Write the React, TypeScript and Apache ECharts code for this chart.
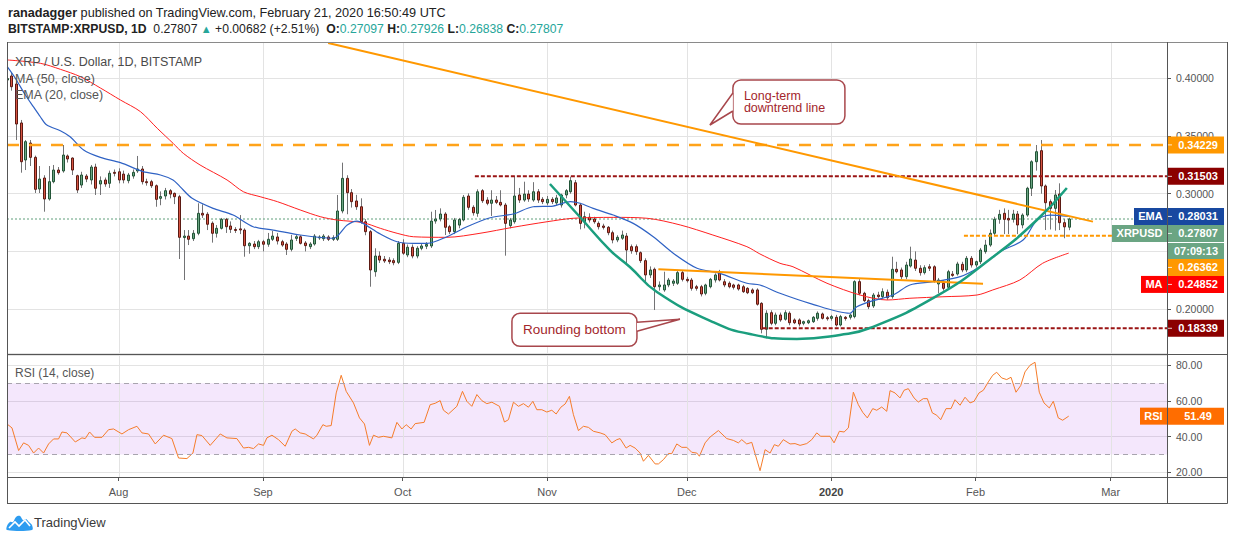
import React, { useEffect, useRef } from 'react';
import * as echarts from 'echarts';

// Days are counted from 2019-07-01 (day 0). First candle: 2019-07-08 (day 7).
const FIRST_DAY = 7;
const X_MIN = 7.05;
const X_MAX = 256.1;
const PRICE_MIN = 0.16196;
const PRICE_MAX = 0.43146;
const RSI_MIN = 17.36;
const RSI_MAX = 85.78;

const monthStarts = [31, 62, 92, 123, 153, 184, 215, 244];
const monthLabels = ['Aug', 'Sep', 'Oct', 'Nov', 'Dec', '2020', 'Feb', 'Mar'];
// Price-axis labels that the original hides behind its price tags
const hiddenPriceLabels = [0.25];

const opens = [
  0.3985, 0.4020, 0.3951, 0.3613, 0.3292, 0.3439, 0.3315, 0.3041, 0.3136, 0.2954,
  0.3104, 0.3205, 0.3197, 0.3327, 0.3309, 0.3156, 0.3075, 0.3153, 0.3119, 0.3231,
  0.3084, 0.3119, 0.3090, 0.3185, 0.3190, 0.3170, 0.3113, 0.3153, 0.3197, 0.3214,
  0.3104, 0.3104, 0.3069, 0.2960, 0.2980, 0.3026, 0.3003, 0.2974, 0.2620, 0.2633,
  0.2610, 0.2657, 0.2830, 0.2822, 0.2744, 0.2657, 0.2700, 0.2778, 0.2720, 0.2690,
  0.2695, 0.2685, 0.2549, 0.2564, 0.2541, 0.2584, 0.2562, 0.2605, 0.2625, 0.2584,
  0.2564, 0.2518, 0.2613, 0.2627, 0.2573, 0.2541, 0.2564, 0.2619, 0.2610, 0.2625,
  0.2605, 0.2605, 0.2850, 0.3133, 0.3009, 0.2937, 0.2887, 0.2757, 0.2671, 0.2324,
  0.2460, 0.2432, 0.2425, 0.2420, 0.2405, 0.2570, 0.2469, 0.2536, 0.2460, 0.2527,
  0.2545, 0.2547, 0.2763, 0.2781, 0.2824, 0.2714, 0.2671, 0.2728, 0.2772, 0.2980,
  0.2882, 0.2830, 0.3026, 0.2945, 0.2917, 0.2945, 0.2925, 0.2902, 0.2723, 0.2757,
  0.2989, 0.2945, 0.2997, 0.2945, 0.3017, 0.2951, 0.2920, 0.2951, 0.2920, 0.2902,
  0.2989, 0.3017, 0.3095, 0.2902, 0.2757, 0.2796, 0.2781, 0.2743, 0.2720, 0.2709,
  0.2662, 0.2599, 0.2614, 0.2633, 0.2541, 0.2541, 0.2489, 0.2420, 0.2296, 0.2345,
  0.2194, 0.2166, 0.2209, 0.2224, 0.2224, 0.2316, 0.2258, 0.2252, 0.2194, 0.2194,
  0.2137, 0.2194, 0.2252, 0.2316, 0.2237, 0.2224, 0.2209, 0.2209, 0.2194, 0.2180,
  0.2166, 0.2166, 0.2050, 0.1825, 0.1969, 0.1877, 0.1949, 0.1912, 0.1964, 0.1906,
  0.1906, 0.1877, 0.1882, 0.1891, 0.1920, 0.1958, 0.1925, 0.1920, 0.1929, 0.1862,
  0.1929, 0.1929, 0.1935, 0.2238, 0.2137, 0.2073, 0.2027, 0.2122, 0.2108, 0.2146,
  0.2108, 0.2345, 0.2339, 0.2281, 0.2373, 0.2425, 0.2354, 0.2316, 0.2367, 0.2367,
  0.2218, 0.2224, 0.2189, 0.2303, 0.2304, 0.2388, 0.2339, 0.2440, 0.2382, 0.2411,
  0.2498, 0.2555, 0.2657, 0.2778, 0.2830, 0.2786, 0.2778, 0.2824, 0.2729, 0.2815,
  0.3047, 0.3277, 0.3373, 0.3067, 0.2931, 0.2873, 0.2997, 0.2749, 0.27097,
];

const highs = [
  0.4020, 0.4046, 0.3975, 0.3639, 0.3465, 0.3465, 0.3330, 0.3240, 0.3160, 0.3240,
  0.3249, 0.3231, 0.3422, 0.3340, 0.3315, 0.3165, 0.3190, 0.3170, 0.3249, 0.3260,
  0.3150, 0.3140, 0.3200, 0.3210, 0.3220, 0.3200, 0.3180, 0.3210, 0.3327, 0.3240,
  0.3130, 0.3120, 0.3080, 0.3020, 0.3050, 0.3040, 0.3010, 0.2990, 0.2685, 0.2685,
  0.2685, 0.2917, 0.2908, 0.2840, 0.2760, 0.2728, 0.2790, 0.2790, 0.2760, 0.2710,
  0.2815, 0.2700, 0.2580, 0.2590, 0.2600, 0.2600, 0.2660, 0.2677, 0.2660, 0.2600,
  0.2580, 0.2643, 0.2650, 0.2640, 0.2590, 0.2580, 0.2650, 0.2640, 0.2650, 0.2640,
  0.2640, 0.2989, 0.3269, 0.3160, 0.3040, 0.2990, 0.2960, 0.2780, 0.2685, 0.2527,
  0.2500, 0.2460, 0.2450, 0.2440, 0.2590, 0.2605, 0.2560, 0.2560, 0.2545, 0.2570,
  0.2580, 0.2844, 0.2859, 0.2873, 0.2840, 0.2730, 0.2790, 0.2790, 0.2989, 0.3003,
  0.2900, 0.3038, 0.3040, 0.2970, 0.3030, 0.2980, 0.3030, 0.2920, 0.2790, 0.3153,
  0.3050, 0.3104, 0.3030, 0.3100, 0.3040, 0.2970, 0.2980, 0.2970, 0.2990, 0.3000,
  0.3040, 0.3147, 0.3119, 0.2920, 0.2844, 0.2830, 0.2800, 0.2760, 0.2740, 0.2720,
  0.2680, 0.2640, 0.2680, 0.2660, 0.2560, 0.2560, 0.2500, 0.2440, 0.2370, 0.2360,
  0.2240, 0.2324, 0.2270, 0.2260, 0.2340, 0.2330, 0.2280, 0.2270, 0.2210, 0.2210,
  0.2220, 0.2270, 0.2310, 0.2340, 0.2260, 0.2240, 0.2220, 0.2220, 0.2210, 0.2190,
  0.2180, 0.2180, 0.2060, 0.1990, 0.1990, 0.1970, 0.1970, 0.1990, 0.1980, 0.1920,
  0.1920, 0.1900, 0.1910, 0.1940, 0.1980, 0.1970, 0.1940, 0.1950, 0.1950, 0.1950,
  0.1940, 0.1960, 0.2250, 0.2260, 0.2150, 0.2090, 0.2140, 0.2150, 0.2180, 0.2170,
  0.2454, 0.2410, 0.2360, 0.2410, 0.2541, 0.2500, 0.2380, 0.2380, 0.2390, 0.2380,
  0.2270, 0.2250, 0.2340, 0.2330, 0.2410, 0.2410, 0.2460, 0.2460, 0.2420, 0.2530,
  0.2600, 0.2690, 0.2800, 0.2860, 0.2873, 0.2860, 0.2860, 0.2850, 0.2830, 0.3060,
  0.3290, 0.3422, 0.3465, 0.3080, 0.2950, 0.3032, 0.3090, 0.2780, 0.27926,
];

const lows = [
  0.3960, 0.3893, 0.3465, 0.3182, 0.3205, 0.3240, 0.3006, 0.3006, 0.2844, 0.2940,
  0.3090, 0.3165, 0.3182, 0.3270, 0.3162, 0.3006, 0.3050, 0.3100, 0.3080, 0.2989,
  0.2989, 0.3060, 0.3050, 0.3150, 0.3090, 0.3090, 0.3090, 0.3130, 0.3180, 0.3080,
  0.3070, 0.3050, 0.2887, 0.2900, 0.2950, 0.2960, 0.2910, 0.2434, 0.2252, 0.2555,
  0.2590, 0.2640, 0.2790, 0.2685, 0.2576, 0.2620, 0.2690, 0.2660, 0.2660, 0.2660,
  0.2650, 0.2454, 0.2480, 0.2520, 0.2520, 0.2500, 0.2540, 0.2590, 0.2560, 0.2540,
  0.2469, 0.2500, 0.2590, 0.2560, 0.2500, 0.2520, 0.2550, 0.2600, 0.2590, 0.2590,
  0.2590, 0.2590, 0.2830, 0.2822, 0.2880, 0.2860, 0.2740, 0.2640, 0.2194, 0.2281,
  0.2400, 0.2400, 0.2390, 0.2380, 0.2390, 0.2470, 0.2450, 0.2440, 0.2440, 0.2510,
  0.2520, 0.2530, 0.2740, 0.2760, 0.2642, 0.2650, 0.2650, 0.2700, 0.2760, 0.2860,
  0.2810, 0.2800, 0.2920, 0.2900, 0.2807, 0.2910, 0.2890, 0.2463, 0.2700, 0.2740,
  0.2920, 0.2930, 0.2930, 0.2930, 0.2920, 0.2910, 0.2900, 0.2910, 0.2900, 0.2880,
  0.2960, 0.3000, 0.2890, 0.2691, 0.2700, 0.2750, 0.2740, 0.2690, 0.2690, 0.2640,
  0.2570, 0.2580, 0.2600, 0.2397, 0.2480, 0.2470, 0.2400, 0.2224, 0.2270, 0.1992,
  0.2160, 0.2150, 0.2190, 0.2200, 0.2210, 0.2240, 0.2230, 0.2160, 0.2160, 0.2110,
  0.2120, 0.2180, 0.2230, 0.2240, 0.2190, 0.2180, 0.2170, 0.2160, 0.2140, 0.2130,
  0.2130, 0.2030, 0.1790, 0.1747, 0.1860, 0.1860, 0.1890, 0.1900, 0.1860, 0.1870,
  0.1850, 0.1860, 0.1870, 0.1880, 0.1900, 0.1910, 0.1900, 0.1900, 0.1850, 0.1850,
  0.1900, 0.1910, 0.1920, 0.2120, 0.2060, 0.2000, 0.2010, 0.2090, 0.2090, 0.2080,
  0.2090, 0.2310, 0.2260, 0.2260, 0.2360, 0.2330, 0.2290, 0.2300, 0.2330, 0.2230,
  0.2137, 0.2160, 0.2170, 0.2280, 0.2290, 0.2320, 0.2320, 0.2360, 0.2360, 0.2390,
  0.2480, 0.2540, 0.2640, 0.2740, 0.2650, 0.2650, 0.2750, 0.2650, 0.2700, 0.2800,
  0.2980, 0.3200, 0.3000, 0.2685, 0.2690, 0.2680, 0.2685, 0.2614, 0.26838,
];

const closes = [
  0.3998, 0.3927, 0.3604, 0.3277, 0.3451, 0.3315, 0.3038, 0.3127, 0.2954, 0.3104,
  0.3205, 0.3182, 0.3335, 0.3301, 0.3205, 0.3032, 0.3162, 0.3127, 0.3231, 0.3047,
  0.3113, 0.3084, 0.3177, 0.3180, 0.3119, 0.3119, 0.3162, 0.3185, 0.3214, 0.3104,
  0.3100, 0.3069, 0.2951, 0.2975, 0.3026, 0.2997, 0.2974, 0.2622, 0.2633, 0.2605,
  0.2657, 0.2830, 0.2815, 0.2735, 0.2657, 0.2700, 0.2778, 0.2714, 0.2691, 0.2686,
  0.2686, 0.2549, 0.2570, 0.2541, 0.2584, 0.2562, 0.2605, 0.2633, 0.2590, 0.2555,
  0.2518, 0.2599, 0.2627, 0.2570, 0.2550, 0.2564, 0.2633, 0.2625, 0.2633, 0.2605,
  0.2619, 0.2850, 0.3133, 0.3009, 0.2931, 0.2887, 0.2757, 0.2671, 0.2339, 0.2460,
  0.2425, 0.2417, 0.2411, 0.2402, 0.2570, 0.2484, 0.2536, 0.2460, 0.2527, 0.2547,
  0.2560, 0.2763, 0.2781, 0.2824, 0.2709, 0.2671, 0.2772, 0.2777, 0.2969, 0.2882,
  0.2835, 0.3017, 0.2939, 0.2917, 0.2945, 0.2925, 0.2902, 0.2743, 0.2772, 0.2980,
  0.2945, 0.2997, 0.2954, 0.3017, 0.2945, 0.2931, 0.2951, 0.2931, 0.2963, 0.2989,
  0.3026, 0.3113, 0.2902, 0.2743, 0.2801, 0.2772, 0.2757, 0.2714, 0.2708, 0.2662,
  0.2599, 0.2622, 0.2642, 0.2512, 0.2506, 0.2498, 0.2420, 0.2296, 0.2339, 0.2194,
  0.2209, 0.2209, 0.2252, 0.2243, 0.2316, 0.2258, 0.2246, 0.2180, 0.2180, 0.2131,
  0.2209, 0.2258, 0.2296, 0.2252, 0.2209, 0.2194, 0.2189, 0.2174, 0.2151, 0.2142,
  0.2142, 0.2042, 0.1825, 0.1964, 0.1877, 0.1949, 0.1906, 0.1969, 0.1882, 0.1882,
  0.1871, 0.1891, 0.1899, 0.1929, 0.1964, 0.1920, 0.1918, 0.1935, 0.1862, 0.1935,
  0.1918, 0.1949, 0.2238, 0.2137, 0.2073, 0.2021, 0.2122, 0.2108, 0.2151, 0.2099,
  0.2345, 0.2324, 0.2281, 0.2382, 0.2434, 0.2354, 0.2316, 0.2359, 0.2354, 0.2246,
  0.2252, 0.2180, 0.2324, 0.2292, 0.2391, 0.2339, 0.2440, 0.2382, 0.2411, 0.2512,
  0.2555, 0.2657, 0.2778, 0.2821, 0.2778, 0.2772, 0.2824, 0.2729, 0.2815, 0.3047,
  0.3277, 0.3364, 0.3067, 0.2922, 0.2873, 0.2989, 0.2749, 0.27125, 0.27807,
];

// EMA (20) and MA (50) as [day, value]
const emaPoints = [
  [7.1, 0.4101], [8.8, 0.4003], [11.0, 0.3855], [12.7, 0.3754], [14.2, 0.3667], [15.6, 0.3595],
  [18.5, 0.3546], [20.6, 0.3494], [23.5, 0.3379], [27.1, 0.3315], [31.4, 0.3269], [36.3, 0.3191],
  [40.0, 0.3162], [42.7, 0.3119], [44.2, 0.3061], [46.8, 0.2960], [51.3, 0.2873], [55.6, 0.2815],
  [59.9, 0.2714], [64.2, 0.2685], [70.0, 0.2642], [77.1, 0.2614], [80.1, 0.2729], [82.2, 0.2763],
  [83.5, 0.2743], [87.2, 0.2651], [90.8, 0.2584], [94.3, 0.2570], [97.3, 0.2570], [101.5, 0.2627],
  [105.8, 0.2714], [110.8, 0.2792], [115.7, 0.2824], [120.0, 0.2887], [124.3, 0.2893], [128.0, 0.2931],
  [130.1, 0.2917], [132.9, 0.2873], [137.2, 0.2815], [141.5, 0.2743], [145.8, 0.2627], [150.1, 0.2484],
  [155.2, 0.2354], [160.1, 0.2310], [165.9, 0.2224], [168.7, 0.2209], [173.0, 0.2137], [179.4, 0.2050],
  [188.0, 0.1964], [189.5, 0.2021], [193.0, 0.2073], [197.3, 0.2122], [200.9, 0.2209], [205.9, 0.2237],
  [211.7, 0.2281], [215.9, 0.2367], [220.2, 0.2497], [225.2, 0.2599], [228.2, 0.2772], [231.0, 0.2815],
  [235, 0.28031],
];

const maPoints = [
  [7.1, 0.4159], [14.2, 0.4130], [18.5, 0.4078], [22.8, 0.4014], [27.1, 0.3916], [31.4, 0.3812],
  [35.7, 0.3711], [39.3, 0.3567], [42.7, 0.3437], [44.9, 0.3350], [48.5, 0.3249], [54.3, 0.3119],
  [57.8, 0.3017], [61.4, 0.2974], [65.1, 0.2931], [70.0, 0.2859], [74.3, 0.2801], [77.9, 0.2772],
  [83.5, 0.2749], [87.2, 0.2700], [90.8, 0.2657], [94.3, 0.2627], [101.5, 0.2622], [108.6, 0.2657],
  [115.7, 0.2709], [123.0, 0.2757], [128.6, 0.2787], [137.2, 0.2795], [144.5, 0.2787], [151.6, 0.2729],
  [158.6, 0.2642], [165.9, 0.2541], [168.7, 0.2478], [173.0, 0.2397], [175.8, 0.2367], [183.1, 0.2224],
  [190.2, 0.2122], [196.0, 0.2079], [200.9, 0.2094], [208.0, 0.2107], [215.3, 0.2122], [218.7, 0.2166],
  [224.5, 0.2252], [229.4, 0.2397], [235, 0.24852],
];

// RSI (14) as [day, value]
const rsiPoints = [
  [7.05, 47.1], [8.12, 44.9], [9.54, 32.2], [10.61, 36.5], [11.68, 35.1], [12.76, 30.8], [13.83, 33.6],
  [14.9, 30.8], [15.98, 35.9], [17.05, 38.7], [18.12, 38.7], [18.85, 42.6], [19.92, 42.1], [21.71, 37.0],
  [23.14, 39.3], [23.85, 38.9], [24.78, 42.6], [25.85, 39.6], [27.44, 39.6], [28.85, 43.9], [29.93, 44.3],
  [31.73, 41.5], [33.15, 43.9], [34.95, 45.8], [36.02, 42.1], [37.44, 41.5], [38.88, 35.9], [40.66, 40.8],
  [42.46, 38.9], [43.88, 28.0], [45.68, 27.7], [46.97, 30.8], [47.83, 41.1], [48.9, 40.6], [50.68, 35.1],
  [52.83, 41.5], [54.27, 39.3], [56.41, 38.9], [57.83, 33.6], [58.9, 34.0], [59.98, 33.3], [61.05, 35.9],
  [62.12, 35.1], [62.85, 39.3], [63.93, 40.8], [65.34, 38.3], [66.78, 34.6], [68.22, 43.0], [68.93, 44.3],
  [70.0, 42.1], [71.07, 41.5], [72.85, 38.7], [73.58, 40.8], [74.87, 46.7], [75.58, 45.8], [76.65, 46.2],
  [77.73, 64.5], [78.8, 74.4], [79.87, 65.4], [81.44, 58.9], [82.73, 50.5], [83.8, 47.1], [84.87, 35.1],
  [85.73, 40.8], [86.81, 39.6], [87.88, 40.2], [89.68, 39.3], [90.76, 48.0], [91.83, 44.3], [92.75, 46.7],
  [93.82, 44.3], [94.68, 47.3], [96.6, 48.0], [97.9, 57.9], [98.98, 58.7], [100.05, 60.2], [100.76, 54.8],
  [101.83, 52.7], [103.63, 57.0], [104.84, 65.4], [105.78, 59.8], [106.85, 57.0], [107.93, 63.6],
  [109.0, 60.2], [110.07, 58.5], [111.15, 59.3], [112.78, 57.0], [113.85, 48.2], [114.71, 49.5],
  [115.78, 59.3], [116.86, 57.0], [117.93, 58.5], [119.0, 56.5], [119.95, 59.8], [120.8, 55.1],
  [121.88, 55.1], [122.95, 53.8], [124.02, 54.8], [124.95, 52.7], [125.96, 56.5], [126.88, 58.3],
  [127.8, 62.6], [128.66, 52.3], [129.73, 43.4], [130.81, 45.8], [131.88, 45.2], [132.95, 43.0],
  [134.39, 42.1], [135.46, 41.1], [136.9, 36.5], [137.97, 38.3], [138.68, 38.9], [139.97, 33.6],
  [140.83, 35.1], [141.9, 33.6], [142.98, 30.8], [143.69, 26.2], [144.76, 29.5], [146.2, 24.7],
  [146.91, 24.7], [147.98, 27.1], [149.05, 30.5], [149.78, 30.5], [150.85, 35.9], [151.93, 34.0],
  [153.0, 34.0], [154.07, 31.2], [155.15, 30.8], [155.71, 29.0], [156.93, 36.5], [158.0, 39.8],
  [159.78, 43.4], [161.58, 38.9], [163.0, 37.9], [164.07, 36.5], [164.8, 38.3], [165.87, 35.9],
  [166.95, 36.8], [168.73, 20.9], [169.81, 32.7], [170.88, 30.8], [171.8, 35.5], [172.66, 34.6],
  [173.73, 38.3], [175.17, 35.9], [176.24, 36.1], [177.32, 35.1], [178.75, 36.1], [179.83, 38.3],
  [180.9, 42.1], [181.76, 40.2], [183.76, 40.2], [184.62, 36.5], [185.76, 43.0], [186.77, 42.6],
  [187.69, 44.9], [188.76, 64.9], [189.83, 57.9], [190.78, 53.6], [191.76, 50.5], [192.92, 55.7],
  [193.78, 54.8], [194.85, 56.6], [195.93, 54.2], [196.64, 65.8], [197.71, 64.5], [198.78, 61.7],
  [199.64, 66.0], [200.56, 66.9], [201.79, 61.7], [202.71, 59.4], [203.78, 61.3], [204.64, 61.3],
  [205.72, 53.3], [206.66, 52.0], [207.52, 49.5], [208.66, 55.7], [209.73, 55.7], [210.59, 60.7],
  [211.67, 57.6], [212.74, 62.1], [213.81, 58.9], [214.67, 59.8], [215.74, 64.5], [216.67, 66.0],
  [217.74, 70.7], [218.68, 74.4], [219.54, 76.1], [220.61, 72.9], [221.68, 72.0], [222.61, 73.3],
  [223.68, 64.9], [224.69, 68.6], [225.61, 76.3], [226.68, 80.0], [227.76, 81.7], [228.68, 64.9],
  [229.69, 58.9], [230.83, 56.1], [231.69, 59.8], [232.76, 50.5], [233.7, 49.2], [235, 51.49],
];
const rsiBands = [30, 70];

// Horizontal levels drawn on the chart
const levelValues = [0.34229, 0.31503, 0.26362, 0.18339];
const levelStartDays = [7.05, 107.5, 212.5, 169.3];

// Drawn trend lines / curve as [day, price]
const downtrendLine = [[76.0, 0.4306], [240.2, 0.2758]];
const flatLine = [[146.9, 0.2345], [216.6, 0.2220]];
const roundingBottom = [
  [123.62, 0.3084], [130.06, 0.2798], [136.5, 0.2512], [140.79, 0.2365], [146.59, 0.2148],
  [158.61, 0.1888], [166.55, 0.1784], [176.64, 0.1741], [185.87, 0.1776], [192.31, 0.1836],
  [206.7, 0.2114], [218.72, 0.2451], [228.16, 0.2772], [234.6, 0.3050],
];

// Callout anchors (box top-left) as [day, price]
const calloutTrend = [162.9, 0.39853];
const calloutBottom = [115.46, 0.19636];

const countdownText = '07:09:13';
const headerLine1 = '{b|ranadagger}{n| published on TradingView.com, February 21, 2020 16:50:49 UTC}';
const headerLine2 =
  '{b|BITSTAMP:XRPUSD, 1D}{n|  0.27807 }{g|▲}{n| +0.00682 (+2.51%)  }{b|O:}{v|0.27097}{b| H:}{v|0.27926}{b| L:}{v|0.26838}{b| C:}{v|0.27807}';

export default function App() {
  const ref = useRef<HTMLDivElement>(null);

  useEffect(() => {
    const el = ref.current;
    if (!el) return;
    const chart = echarts.init(el, null, { renderer: 'svg' });
    const FONT = '"Liberation Sans", Arial, sans-serif';

    const GL = 7, GR = 1167, MT = 42, MB = 353, RT = 355, RB = 477, FR = 1227, FB = 503;

    const candles = opens.map((o, i) => [FIRST_DAY + i, o, closes[i], lows[i], highs[i]]);
    const lastClose = closes[closes.length - 1];
    const emaLast = emaPoints[emaPoints.length - 1][1];
    const maLast = maPoints[maPoints.length - 1][1];
    const rsiLast = rsiPoints[rsiPoints.length - 1][1];

    const levelStyles = [
      { color: '#ffa31a', type: [12, 10], width: 2.5 },
      { color: '#9a1414', type: [4, 2], width: 2 },
      { color: '#ff9800', type: [4, 2], width: 2 },
      { color: '#9a1414', type: [4, 2], width: 2 },
    ];

    const monthLineSeries = (gi: number, yRef: number) => ({
      type: 'custom',
      xAxisIndex: gi,
      yAxisIndex: gi,
      silent: true,
      z: 1,
      data: monthStarts.map((d) => [d, yRef]),
      encode: { x: 0, y: 1 },
      renderItem: (params: any, api: any) => {
        const cs = params.coordSys;
        const x = Math.round(api.coord([api.value(0), api.value(1)])[0]) + 0.5;
        return {
          type: 'line',
          shape: { x1: x, y1: cs.y, x2: x, y2: cs.y + cs.height },
          style: { stroke: '#e3e3e3', lineWidth: 1 },
        };
      },
    });

    const option: any = {
      animation: false,
      backgroundColor: '#ffffff',
      textStyle: { fontFamily: FONT },
      grid: [
        { left: GL, top: MT, width: GR - GL, height: MB - MT },
        { left: GL, top: RT, width: GR - GL, height: RB - RT },
      ],
      xAxis: [
        { type: 'value', gridIndex: 0, min: X_MIN, max: X_MAX, show: false, splitLine: { show: false } },
        {
          type: 'value',
          gridIndex: 1,
          min: X_MIN,
          max: X_MAX,
          axisLine: { show: false },
          splitLine: { show: false },
          axisTick: { show: true, customValues: monthStarts, length: 4, lineStyle: { color: '#555' } },
          axisLabel: {
            customValues: monthStarts,
            color: '#555',
            fontSize: 11,
            margin: 9,
            formatter: (v: number) => {
              const i = monthStarts.indexOf(Math.round(v));
              const s = i >= 0 ? monthLabels[i] : '';
              return s === '2020' ? '{y|' + s + '}' : s;
            },
            rich: { y: { fontWeight: 'bold', fontSize: 11, color: '#444' } },
          },
        },
      ],
      yAxis: [
        {
          type: 'value',
          gridIndex: 0,
          position: 'right',
          min: PRICE_MIN,
          max: PRICE_MAX,
          splitNumber: 5,
          axisLine: { show: false },
          axisTick: { show: true, length: 4, lineStyle: { color: '#555' } },
          axisLabel: {
            color: '#555',
            fontSize: 10.5,
            margin: 9,
            showMinLabel: false,
            showMaxLabel: false,
            formatter: (v: number) =>
              hiddenPriceLabels.some((h) => Math.abs(h - v) < 1e-6) ? '' : v.toFixed(5),
          },
          splitLine: { show: true, lineStyle: { color: '#e3e3e3', width: 1 } },
        },
        {
          type: 'value',
          gridIndex: 1,
          position: 'right',
          min: RSI_MIN,
          max: RSI_MAX,
          splitNumber: 3,
          axisLine: { show: false },
          axisTick: { show: true, length: 4, lineStyle: { color: '#555' } },
          axisLabel: {
            color: '#555',
            fontSize: 10.5,
            margin: 9,
            showMinLabel: false,
            showMaxLabel: false,
            formatter: (v: number) => v.toFixed(2),
          },
          splitLine: { show: true, lineStyle: { color: '#e3e3e3', width: 1 } },
        },
      ],
      series: [
        monthLineSeries(0, PRICE_MIN),
        monthLineSeries(1, RSI_MIN),
        {
          type: 'line',
          xAxisIndex: 0,
          yAxisIndex: 0,
          silent: true,
          z: 2,
          symbol: 'none',
          data: [[X_MIN, lastClose], [X_MAX, lastClose]],
          lineStyle: { color: '#5f9e7b', width: 1, type: [2, 2] },
        },
        {
          type: 'custom',
          name: 'XRPUSD',
          xAxisIndex: 0,
          yAxisIndex: 0,
          z: 3,
          clip: true,
          silent: true,
          data: candles,
          encode: { x: 0, y: [1, 2, 3, 4] },
          renderItem: (params: any, api: any) => {
            const d = api.value(0);
            const o = api.value(1);
            const c = api.value(2);
            const l = api.value(3);
            const h = api.value(4);
            const po = api.coord([d, o]);
            const yc = api.coord([d, c])[1];
            const yl = api.coord([d, l])[1];
            const yh = api.coord([d, h])[1];
            const up = c >= o;
            const top = Math.min(po[1], yc);
            const bot = Math.max(po[1], yc);
            const xr = Math.round(po[0]) + 0.5;
            return {
              type: 'group',
              children: [
                { type: 'line', shape: { x1: xr, y1: yh, x2: xr, y2: yl }, style: { stroke: '#737375', lineWidth: 1 } },
                {
                  type: 'rect',
                  shape: { x: xr - 1, y: top, width: 2, height: Math.max(bot - top, 1) },
                  style: { fill: up ? '#6ba583' : '#d75442', stroke: up ? '#225437' : '#5b1a13', lineWidth: 1 },
                },
              ],
            };
          },
        },
        {
          type: 'line',
          name: 'MA (50, close)',
          xAxisIndex: 0,
          yAxisIndex: 0,
          z: 4,
          silent: true,
          symbol: 'none',
          smooth: 0.3,
          data: maPoints,
          lineStyle: { color: '#ff2020', width: 1 },
        },
        {
          type: 'line',
          name: 'EMA (20, close)',
          xAxisIndex: 0,
          yAxisIndex: 0,
          z: 4,
          silent: true,
          symbol: 'none',
          smooth: 0.3,
          data: emaPoints,
          lineStyle: { color: '#2f62c4', width: 1.2 },
        },
        ...levelValues.map((v, i) => ({
          type: 'line',
          xAxisIndex: 0,
          yAxisIndex: 0,
          z: 5,
          silent: true,
          symbol: 'none',
          data: [[levelStartDays[i], v], [X_MAX, v]],
          lineStyle: levelStyles[i],
        })),
        {
          type: 'line',
          xAxisIndex: 0,
          yAxisIndex: 0,
          z: 6,
          silent: true,
          symbol: 'none',
          data: downtrendLine,
          lineStyle: { color: '#ff9800', width: 2 },
        },
        {
          type: 'line',
          xAxisIndex: 0,
          yAxisIndex: 0,
          z: 6,
          silent: true,
          symbol: 'none',
          data: flatLine,
          lineStyle: { color: '#ff9800', width: 2 },
        },
        {
          type: 'line',
          xAxisIndex: 0,
          yAxisIndex: 0,
          z: 6,
          silent: true,
          symbol: 'none',
          smooth: 0.5,
          data: roundingBottom,
          lineStyle: { color: '#1b9e7e', width: 2.5 },
        },
        {
          type: 'line',
          name: 'RSI (14, close)',
          xAxisIndex: 1,
          yAxisIndex: 1,
          z: 4,
          silent: true,
          symbol: 'none',
          data: rsiPoints,
          lineStyle: { color: '#f57c2a', width: 1 },
          markArea: {
            silent: true,
            itemStyle: { color: 'rgba(155, 40, 230, 0.11)' },
            data: [[{ yAxis: rsiBands[0] }, { yAxis: rsiBands[1] }]],
          },
          markLine: {
            silent: true,
            symbol: 'none',
            label: { show: false },
            lineStyle: { color: '#a8a4ae', type: [5, 4], width: 1 },
            data: rsiBands.map((b) => ({ yAxis: b })),
          },
        },
      ],
    };

    chart.setOption(option);

    const py = (v: number) => chart.convertToPixel({ yAxisIndex: 0 } as any, v) as unknown as number;
    const ry = (v: number) => chart.convertToPixel({ yAxisIndex: 1 } as any, v) as unknown as number;
    const pt = (p: number[]) => chart.convertToPixel({ gridIndex: 0 } as any, p) as unknown as number[];

    const canvas = document.createElement('canvas');
    const ctx = canvas.getContext('2d');
    const measure = (t: string, font: string) => {
      if (!ctx) return t.length * 7;
      ctx.font = font;
      return ctx.measureText(t).width;
    };

    const els: any[] = [];
    const Z = 100;
    const line = (x1: number, y1: number, x2: number, y2: number, stroke = '#555', w = 1) =>
      els.push({ type: 'line', z: Z, silent: true, shape: { x1, y1, x2, y2 }, style: { stroke, lineWidth: w } });
    const rect = (x: number, y: number, w: number, h: number, fill: string) =>
      els.push({ type: 'rect', z: Z, silent: true, shape: { x, y, width: w, height: h }, style: { fill } });
    const text = (
      x: number,
      y: number,
      t: string,
      opt: { size?: number; weight?: string; fill?: string; align?: string; rich?: any; lineHeight?: number } = {}
    ) =>
      els.push({
        type: 'text',
        z: Z + 1,
        silent: true,
        x,
        y,
        style: {
          text: t,
          fontSize: opt.size || 12,
          fontWeight: opt.weight || 'normal',
          fontFamily: FONT,
          fill: opt.fill || '#555',
          align: opt.align || 'left',
          verticalAlign: 'middle',
          lineHeight: opt.lineHeight,
          rich: opt.rich,
        },
      });

    // Frame and pane separators
    line(GL + 0.5, MT + 0.5, FR + 0.5, MT + 0.5, '#8a8a8a');
    line(GL + 0.5, MT, GL + 0.5, FB + 0.5);
    line(GL, FB + 0.5, FR + 0.5, FB + 0.5);
    line(FR + 0.5, MT, FR + 0.5, FB + 0.5);
    line(GL, 354.5, FR + 0.5, 354.5);
    line(GL, RB + 0.5, FR + 0.5, RB + 0.5);
    line(GR + 0.5, MT, GR + 0.5, FB + 0.5);

    // Header
    const rt = (size: number, weight: string, fill: string) => ({
      fontSize: size,
      fontWeight: weight,
      fontFamily: FONT,
      fill,
      color: fill,
    });
    text(8, 13, headerLine1, {
      size: 12.7,
      fill: '#222',
      rich: { b: rt(12.7, 'bold', '#222'), n: rt(12.7, 'normal', '#222') },
    });
    text(8, 29, headerLine2, {
      size: 12.2,
      fill: '#222',
      rich: {
        b: rt(12.2, 'bold', '#222'),
        n: rt(12.2, 'normal', '#222'),
        g: rt(11, 'normal', '#26a69a'),
        v: rt(12.2, 'normal', '#26a69a'),
      },
    });

    // Pane legends
    text(15, 62, 'XRP / U.S. Dollar, 1D, BITSTAMP', { size: 12.5, fill: '#4a4a4a' });
    text(15, 78.5, 'MA (50, close)', { size: 12.5, fill: '#555' });
    text(15, 94.5, 'EMA (20, close)', { size: 12.5, fill: '#555' });
    text(15, 373, 'RSI (14, close)', { size: 12, fill: '#555' });

    // Price tags on the right axis, stacked like the original
    const TAG_H = 17;
    const TAG_W = 56;
    const tagFont = `bold 11px ${FONT}`;
    const tags = [
      { v: levelValues[0], bg: '#ff9800' },
      { v: levelValues[1], bg: '#8b0000' },
      { v: emaLast, bg: '#1848a0', name: 'EMA' },
      { v: lastClose, bg: '#6ba583', name: 'XRPUSD', sub: countdownText },
      { v: levelValues[2], bg: '#ff9800' },
      { v: maLast, bg: '#ff0000', name: 'MA' },
      { v: levelValues[3], bg: '#8b0000' },
    ].sort((a, b) => b.v - a.v);
    let prevBottom = -1e9;
    const drawTag = (top: number, label: string, bg: string, name?: string) => {
      rect(GR + 1, top, TAG_W, TAG_H, bg);
      line(GR + 1, top + TAG_H / 2, GR + 5, top + TAG_H / 2, 'rgba(255,255,255,0.8)');
      text(GR + 1 + TAG_W / 2 + 2, top + TAG_H / 2, label, { size: 11, weight: 'bold', fill: '#fff', align: 'center' });
      if (name) {
        const w = Math.round(measure(name, tagFont) + 9);
        rect(GR - w, top, w, TAG_H, bg);
        text(GR - w / 2, top + TAG_H / 2, name, { size: 11, weight: 'bold', fill: '#fff', align: 'center' });
      }
    };
    tags.forEach((t: any) => {
      let top = py(t.v) - TAG_H / 2;
      if (top < prevBottom) top = prevBottom;
      drawTag(top, t.v.toFixed(5), t.bg, t.name);
      let bottom = top + TAG_H;
      if (t.sub) {
        rect(GR + 1, bottom + 1, TAG_W, TAG_H - 1, t.bg);
        text(GR + 1 + TAG_W / 2, bottom + 1 + (TAG_H - 1) / 2, t.sub, { size: 11, weight: 'bold', fill: '#fff', align: 'center' });
        bottom += TAG_H;
      }
      prevBottom = bottom;
    });
    // RSI tag
    {
      const top = ry(rsiLast) - TAG_H / 2;
      rect(GR + 1, top, TAG_W, TAG_H, '#ff6d00');
      text(GR + 1 + TAG_W / 2 + 2, top + TAG_H / 2, rsiLast.toFixed(2), { size: 11, weight: 'bold', fill: '#fff', align: 'center' });
      const w = Math.round(measure('RSI', tagFont) + 9);
      rect(GR - w, top, w, TAG_H, '#ff6d00');
      text(GR - w / 2, top + TAG_H / 2, 'RSI', { size: 11, weight: 'bold', fill: '#fff', align: 'center' });
    }

    // Callouts
    const CALL_STROKE = '#a8474c';
    const CALL_TEXT = '#a3262b';
    const callout = (
      anchor: number[],
      w: number,
      h: number,
      a1: number[],
      tip: number[],
      a2: number[],
      label: string,
      textOpt: any
    ) => {
      const [bx, by] = pt(anchor);
      els.push({
        type: 'rect',
        z: Z,
        silent: true,
        shape: { x: bx, y: by, width: w, height: h, r: 8 },
        style: { fill: '#fff', stroke: CALL_STROKE, lineWidth: 1.5 },
      });
      const p1 = [bx + a1[0], by + a1[1]];
      const pT = [bx + tip[0], by + tip[1]];
      const p2 = [bx + a2[0], by + a2[1]];
      els.push({
        type: 'polygon',
        z: Z,
        silent: true,
        shape: { points: [p1, pT, p2] },
        style: { fill: '#fff', stroke: 'none' },
      });
      els.push({
        type: 'polyline',
        z: Z,
        silent: true,
        shape: { points: [p1, pT, p2] },
        style: { fill: 'none', stroke: CALL_STROKE, lineWidth: 1.5 },
      });
      text(bx + textOpt.dx, by + textOpt.dy, label, {
        size: textOpt.size,
        fill: CALL_TEXT,
        align: textOpt.align,
        lineHeight: textOpt.lineHeight,
      });
    };
    callout(calloutTrend, 112, 44, [0, 13], [-23, 45], [0, 31], 'Long-term\ndowntrend line', {
      dx: 11,
      dy: 22,
      size: 12.5,
      align: 'left',
      lineHeight: 12,
    });
    callout(calloutBottom, 125, 33, [125, 9], [168, 6], [125, 18], 'Rounding bottom', {
      dx: 62.5,
      dy: 16.5,
      size: 13.5,
      align: 'center',
    });

    // TradingView logo
    els.push({
      type: 'polygon',
      z: Z,
      silent: true,
      shape: {
        points: [[7, 530], [7, 526], [10, 522], [13, 522], [16, 517], [20, 516], [23, 520], [26, 519], [29, 522], [32, 525], [32, 530]],
        smooth: 0.35,
      },
      style: { fill: '#2d9cf0' },
    });
    els.push({
      type: 'polyline',
      z: Z + 1,
      silent: true,
      shape: { points: [[9, 528], [15, 522], [19, 526], [25, 520], [30, 526]] },
      style: { stroke: '#fff', lineWidth: 1.6, fill: 'none' },
    });
    text(34, 522.5, 'TradingView', { size: 13, fill: '#3a3a3a' });

    chart.setOption({ graphic: els });

    return () => {
      chart.dispose();
    };
  }, []);

  return (
    <div
      ref={ref}
      style={{ position: 'fixed', left: 0, top: 0, width: 1234, height: 541, background: '#ffffff' }}
    />
  );
}
